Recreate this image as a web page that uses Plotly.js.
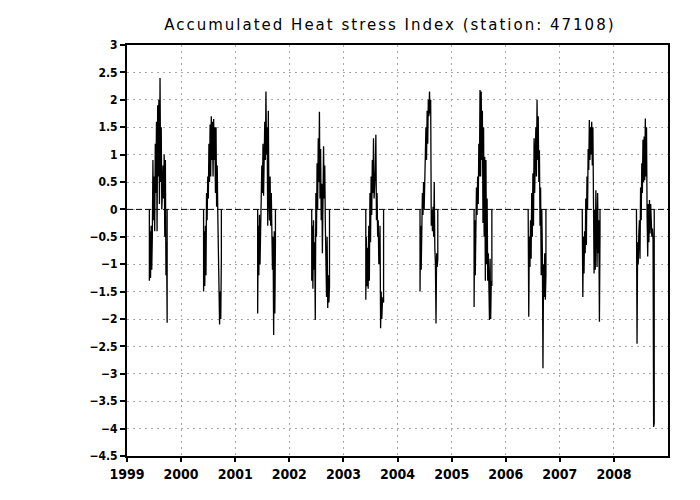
<!DOCTYPE html>
<html>
<head>
<meta charset="utf-8">
<script src="https://cdn.plot.ly/plotly-3.0.1.min.js"></script>
<style>
html,body{margin:0;padding:0;background:#fff;}
#chart{width:700px;height:500px;}
#chart .gtitle{letter-spacing:2px;}
</style>
</head>
<body>
<div id="chart"></div>
<script>
// Season years (each season: values every 4 days starting June 1)
const years = [1999, 2000, 2001, 2002, 2003, 2004, 2005, 2006, 2007, 2008];
const stepDays = 4;
const v1999 = [-1.3, -0.4, -1.25, -0.3, -1.1, -0.5, 0.9, -0.2, 0.6, -0.4, 1.2, 0.3, 1.6, -0.4, 1.9, 0.6, 2.0, 0.1, 2.4, 0.5, 1.5, 0.0, 0.3, 0.8, 0.2, 1.0, -0.5, 0.9, -1.2, -0.6, -2.07];
const v2000 = [-1.5, -0.4, -1.4, -0.3, -1.2, 0.3, -0.2, 0.6, 0.2, 1.2, 0.5, 1.55, 0.6, 1.7, 0.9, 1.6, 0.6, 1.65, 0.9, 1.5, 0.3, 1.5, 0.05, 0.8, -0.1, -0.9, -1.6, -2.1, -1.5, -2.0, -0.9];
const v2001 = [-1.9, -0.3, -1.2, -0.1, -1.0, -0.3, 0.2, 0.8, 0.3, 1.2, 0.25, 1.05, 1.6, 0.9, 2.15, 1.0, 1.5, -0.3, 1.8, 0.2, -0.2, 0.6, -0.3, 0.3, -0.4, -1.1, -0.5, -2.29, -0.4, -1.9, -0.6];
const v2002 = [-1.3, -0.3, -1.45, -0.2, -1.1, -0.6, -2.02, 0.3, -0.5, 0.84, 0.0, 1.3, 0.5, 1.78, 0.2, 1.1, -0.2, 0.47, -0.8, 0.4, 1.15, 0.2, 0.8, -0.3, -1.0, -1.6, -0.5, -1.8, -1.2, -1.7, -1.4];
const v2003 = [-1.65, -0.5, -1.4, -0.7, -1.45, -0.3, -1.3, 0.3, -0.6, 0.6, -0.1, 0.9, 0.3, 1.3, 0.2, 0.4, 0.7, 1.36, -0.2, 0.3, -0.5, -0.2, -1.0, -0.9, -0.3, -2.17, -1.5, -2.0, -1.7, -1.6, -1.7];
const v2004 = [-1.5, -0.3, -1.1, -0.2, 0.3, -0.1, 0.5, 0.0, 0.5, 0.9, 1.5, 0.9, 1.8, 1.2, 2.0, 1.7, 2.15, 1.75, 2.0, -0.3, 0.0, -0.4, 0.05, -0.5, 0.5, -0.7, -1.0, -2.08, -0.8, -1.05, -0.9];
const v2005 = [-1.78, -0.2, -1.2, -0.5, 0.4, -0.1, 0.6, 0.1, 1.2, 0.6, 2.18, 0.6, 2.15, 0.9, 1.8, -0.25, 1.5, -0.5, 0.96, -1.3, 0.9, -1.0, 0.2, -1.3, -0.8, -1.4, -2.02, -0.9, -2.0, -1.3, -1.4];
const v2006 = [-1.3, -1.96, -0.5, -1.05, -0.2, -0.9, 0.3, -0.5, 0.66, -0.3, 1.3, 0.3, 1.0, 1.5, 0.6, 2.0, 0.9, 1.7, 0.5, 1.08, -0.3, 0.4, -1.2, 0.0, -0.8, -2.9, -1.0, -1.6, -0.8, -1.65, -1.2];
const v2007 = [-1.47, -1.6, -0.5, -1.17, -0.4, -0.8, 0.2, -0.65, 0.6, 0.0, 1.1, 0.72, 1.63, 0.9, 1.5, 1.0, 1.6, 0.8, 1.5, -0.55, -1.17, 0.0, -1.1, 0.35, -0.5, -1.05, 0.3, -0.8, -0.2, -2.05, -0.5];
const v2008 = [-1.93, -2.45, -0.6, -1.0, -0.45, -0.2, -0.9, 0.4, -0.2, 0.84, 0.3, 1.27, 0.5, 1.33, 0.53, 1.66, 0.6, 1.5, -0.13, -0.86, 0.1, -0.6, 0.17, -0.44, 0.1, -0.3, -0.5, -0.35, -0.55, -3.97, -3.9];
const seasonValues = [v1999, v2000, v2001, v2002, v2003, v2004, v2005, v2006, v2007, v2008];

// Axis ticks
const yTickVals = [3, 2.5, 2, 1.5, 1, 0.5, 0, -0.5, -1, -1.5, -2, -2.5, -3, -3.5, -4, -4.5];
const yTickText = ["3", "2.5", "2", "1.5", "1", "0.5", "0", "\u22120.5", "\u22121", "\u22121.5", "\u22122", "\u22122.5", "\u22123", "\u22123.5", "\u22124", "\u22124.5"];
const xStart = "1999-01-01";
const xEnd = "2008-12-31";

function fmt(d) {
  const p = n => String(n).padStart(2, "0");
  return d.getUTCFullYear() + "-" + p(d.getUTCMonth() + 1) + "-" + p(d.getUTCDate());
}

const xs = [], ys = [];
years.forEach((yr, k) => {
  const vals = seasonValues[k];
  const dates = vals.map((_, i) => fmt(new Date(Date.UTC(yr, 5, 1 + i * stepDays))));
  xs.push(dates[0]); ys.push(0);
  vals.forEach((v, i) => { xs.push(dates[i]); ys.push(v); });
  xs.push(dates[dates.length - 1]); ys.push(0);
  xs.push(null); ys.push(null);
});

const traces = [
  {x: [xStart, xEnd], y: [0, 0], type: "scatter", mode: "lines",
   line: {color: "#000", width: 1, dash: "6px,3px"}, hoverinfo: "skip"},
  {x: xs, y: ys, type: "scatter", mode: "lines", connectgaps: false,
   line: {color: "#000", width: 1.3}}
];

const layout = {
  width: 700, height: 500,
  margin: {l: 127, r: 32, t: 45, b: 44},
  paper_bgcolor: "#fff", plot_bgcolor: "#fff",
  showlegend: false,
  title: {text: "Accumulated Heat stress Index (station: 47108)",
          font: {family: "DejaVu Sans", size: 15, color: "#000"},
          x: 0.557, xanchor: "center", y: 0.95, yanchor: "middle"},
  xaxis: {
    type: "date", range: [xStart, xEnd],
    dtick: "M12", tick0: xStart, tickformat: "%Y",
    showgrid: true, gridcolor: "#aaaaaa", griddash: "2px,4px", gridwidth: 1,
    showline: true, linecolor: "#000", linewidth: 2, mirror: true,
    ticks: "outside", ticklen: 4, tickwidth: 2, tickcolor: "#000",
    tickfont: {family: "DejaVu Sans Condensed", size: 14, color: "#000", weight: "bold"},
    zeroline: false
  },
  yaxis: {
    range: [-4.5, 3],
    tickvals: yTickVals, ticktext: yTickText,
    showgrid: true, gridcolor: "#aaaaaa", griddash: "2px,4px", gridwidth: 1,
    showline: true, linecolor: "#000", linewidth: 2, mirror: true,
    ticks: "outside", ticklen: 5, tickwidth: 2, tickcolor: "#000",
    tickfont: {family: "DejaVu Sans Condensed", size: 12, color: "#000", weight: "bold"},
    zeroline: false
  }
};

Plotly.newPlot("chart", traces, layout, {displayModeBar: false, staticPlot: true});
</script>
</body>
</html>
